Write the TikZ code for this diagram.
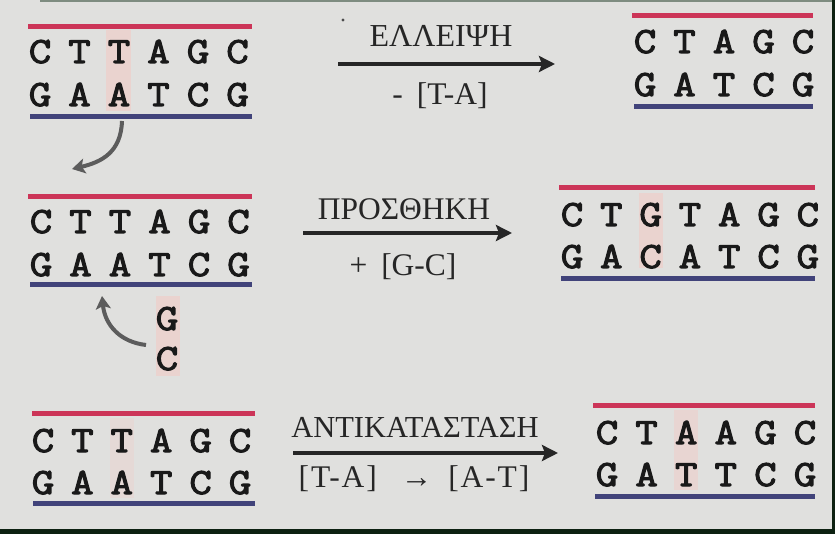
\documentclass[tikz,border=0pt]{standalone}
\usepackage{fontspec}
\setmainfont{Liberation Serif}
\newfontfamily\basefont{Latin Modern Mono}[FakeBold=3, FakeStretch=1.18]
\usetikzlibrary{arrows.meta}

\definecolor{paper}{HTML}{E0E0DE}
\definecolor{strandred}{HTML}{CC3558}
\definecolor{strandblue}{HTML}{41437A}
\definecolor{marker}{HTML}{EAD3CF}
\definecolor{edgegreen}{HTML}{0D2111}
\definecolor{edgegray}{HTML}{7E8C80}
\definecolor{curvegray}{HTML}{5C5C5C}

\tikzset{
  base/.style={font=\basefont\fontsize{37}{37}\selectfont,
    inner sep=0pt, anchor=base, text=black!90},
  lab/.style={font=\fontsize{31.5}{31.5}\selectfont, inner sep=0pt, anchor=base, text=black!85},
  topstrand/.style={strandred, line width=5pt},
  botstrand/.style={strandblue, line width=5pt},
  reaction/.style={black!85, line width=4pt,
    -{Stealth[length=16pt, width=16pt, inset=3pt]}},
  bendarrow/.style={curvegray, line width=4pt,
    -{Stealth[length=13pt, width=15pt, inset=3pt]}},
  marked/.style={fill=marker}
}

\begin{document}
\begin{tikzpicture}[x=1pt, y=-1pt]
  % page and frame
  \fill[paper] (0,0) rectangle (835,534);
  \useasboundingbox (0,0) rectangle (835,534);
  \fill[edgegray] (40,0) rectangle (835,2);
  \fill[edgegreen] (0,529) rectangle (835,534);
  \fill[edgegreen] (832,0) rectangle (835,534);

  % highlighted base pairs
  \fill[marked] (106,30) rectangle (131,111);
  \fill[marked] (156,296) rectangle (180,376);
  \fill[marked] (639,193) rectangle (663,268);
  \fill[marked, opacity=0.5] (110,418) rectangle (134,498);
  \fill[marked, opacity=0.8] (674,410) rectangle (698,490);

  % ---------- deletion ----------
  \draw[topstrand] (28,27) -- (252,27);
  \foreach \ch [count=\i] in {C,T,T,A,G,C}
    \node[base] (dA-\i) at ({40+39.5*(\i-1)}, 63) {\ch};
  \foreach \ch [count=\i] in {G,A,A,T,C,G}
    \node[base] (dB-\i) at ({40+39.5*(\i-1)}, 106) {\ch};
  \draw[botstrand] (30,117) -- (252,117);

  \coordinate (c1s) at (122,121);
  \coordinate (c1e) at (72,169);
  \draw[bendarrow] (c1s) .. controls (121,152) and (102,162) .. (c1e);

  \coordinate (r1s) at (338,64);
  \coordinate (r1e) at (555,64);
  \draw[reaction] (r1s) -- (r1e);
  \node[lab, font=\fontsize{32}{32}\selectfont] (r1top) at (441,47) {ΕΛΛΕΙΨΗ};
  \node[lab] (r1bot) at (440,105) {-\hspace{14pt}[T-A]};
  \fill[black!70] (343,20) circle (1.6);

  \draw[topstrand] (632,16) -- (813,16);
  \foreach \ch [count=\i] in {C,T,A,G,C}
    \node[base] (dC-\i) at ({645+39.5*(\i-1)}, 53) {\ch};
  \foreach \ch [count=\i] in {G,A,T,C,G}
    \node[base] (dD-\i) at ({645+39.5*(\i-1)}, 96) {\ch};
  \draw[botstrand] (634,107) -- (813,107);

  % ---------- insertion ----------
  \draw[topstrand] (28,197) -- (252,197);
  \foreach \ch [count=\i] in {C,T,T,A,G,C}
    \node[base] (iA-\i) at ({41+39.5*(\i-1)}, 233) {\ch};
  \foreach \ch [count=\i] in {G,A,A,T,C,G}
    \node[base] (iB-\i) at ({41+39.5*(\i-1)}, 276) {\ch};
  \draw[botstrand] (30,285) -- (252,285);
  \node[base] (newG) at (167,330) {G};
  \node[base] (newC) at (167,370) {C};

  \coordinate (c2s) at (146,345);
  \coordinate (c2e) at (102,296);
  \draw[bendarrow] (c2s) .. controls (120,342) and (105,325) .. (c2e);

  \coordinate (r2s) at (303,233);
  \coordinate (r2e) at (512,233);
  \draw[reaction] (r2s) -- (r2e);
  \node[lab] (r2top) at (404,220) {ΠΡΟΣΘΗΚΗ};
  \node[lab] (r2bot) at (403,276) {+\hspace{14pt}[G-C]};

  \draw[topstrand] (559,188) -- (815,188);
  \foreach \ch [count=\i] in {C,T,G,T,A,G,C}
    \node[base] (iC-\i) at ({572+39.3*(\i-1)}, 226) {\ch};
  \foreach \ch [count=\i] in {G,A,C,A,T,C,G}
    \node[base] (iD-\i) at ({572+39.3*(\i-1)}, 268) {\ch};
  \draw[botstrand] (561,279) -- (815,279);

  % ---------- substitution ----------
  \draw[topstrand] (32,413) -- (255,413);
  \foreach \ch [count=\i] in {C,T,T,A,G,C}
    \node[base] (sA-\i) at ({43+39.4*(\i-1)}, 452) {\ch};
  \foreach \ch [count=\i] in {G,A,A,T,C,G}
    \node[base] (sB-\i) at ({43+39.4*(\i-1)}, 494) {\ch};
  \draw[botstrand] (33,503) -- (255,503);

  \coordinate (r3s) at (293,453);
  \coordinate (r3e) at (558,453);
  \draw[reaction] (r3s) -- (r3e);
  \node[lab, font=\fontsize{30.5}{30.5}\selectfont] (r3top) at (415,437) {ΑΝΤΙΚΑΤΑΣΤΑΣΗ};
  \node[lab] (r3bot) at (414,487)
    {\addfontfeature{LetterSpace=6}[T-A]\hspace{24pt}→\hspace{16pt}[A-T]};

  \draw[topstrand] (593,405) -- (815,405);
  \foreach \ch [count=\i] in {C,T,A,A,G,C}
    \node[base] (sC-\i) at ({607+39.6*(\i-1)}, 444) {\ch};
  \foreach \ch [count=\i] in {G,A,T,T,C,G}
    \node[base] (sD-\i) at ({607+39.6*(\i-1)}, 486) {\ch};
  \draw[botstrand] (595,496) -- (815,496);
\end{tikzpicture}
\end{document}
